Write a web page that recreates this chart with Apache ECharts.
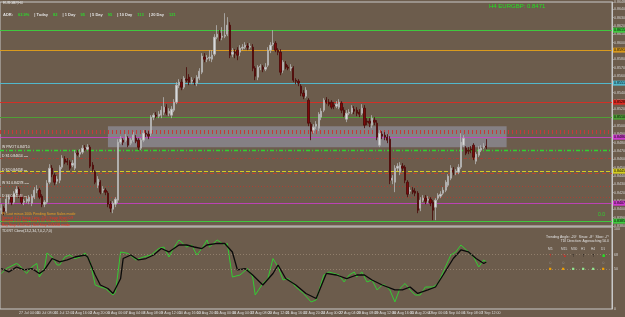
<!DOCTYPE html>
<html>
<head>
<meta charset="utf-8">
<script src="https://cdn.jsdelivr.net/npm/echarts@6/dist/echarts.min.js"></script>
<style>
html,body{margin:0;padding:0;background:#6c5c4c}
#chart{width:625px;height:317px}
</style>
</head>
<body>
<div id="chart"></div>
<script>
// EURGBP H4 candles, 26 Jul - 7 Sep 2018
var openP = [
0.83990,0.84014,0.83978,0.84122,0.84146,0.84086,0.84194,0.84242,0.84158,0.84086,
0.84098,0.84098,0.84074,0.84146,0.84230,0.84230,0.84158,0.84062,0.84086,0.84326,
0.84494,0.84410,0.84338,0.84350,0.84506,0.84602,0.84578,0.84566,0.84530,0.84494,
0.84674,0.84662,0.84686,0.84734,0.84722,0.84746,0.84530,0.84446,0.84290,0.84326,
0.84230,0.84230,0.84194,0.84062,0.84002,0.84062,0.84110,0.84806,0.84830,0.84830,
0.84854,0.84794,0.84830,0.84854,0.84830,0.84734,0.84830,0.84914,0.84902,0.84914,
0.85106,0.85130,0.85118,0.85130,0.85166,0.85226,0.85154,0.85130,0.85190,0.85286,
0.85490,0.85526,0.85466,0.85562,0.85586,0.85538,0.85550,0.85514,0.85574,0.85646,
0.85826,0.85802,0.85814,0.85802,0.85862,0.86066,0.86114,0.86066,0.86078,0.86102,
0.86210,0.85862,0.85886,0.85910,0.85886,0.85934,0.85946,0.85958,0.85946,0.85946,
0.85694,0.85586,0.85706,0.85706,0.85682,0.85730,0.85910,0.85982,0.85994,0.85910,
0.85886,0.85670,0.85742,0.85706,0.85694,0.85694,0.85550,0.85538,0.85478,0.85394,
0.85358,0.85310,0.85022,0.84950,0.84998,0.84974,0.85106,0.85190,0.85310,0.85286,
0.85286,0.85250,0.85238,0.85226,0.85274,0.85190,0.85082,0.85154,0.85166,0.85202,
0.85190,0.85166,0.85154,0.85214,0.85058,0.85058,0.85010,0.85070,0.85034,0.84770,
0.84902,0.84890,0.84866,0.84842,0.84350,0.84326,0.84494,0.84446,0.84518,0.84506,
0.84326,0.84218,0.84230,0.84218,0.84194,0.84014,0.84110,0.84134,0.84110,0.84122,
0.84086,0.84026,0.84134,0.84158,0.84194,0.84230,0.84290,0.84374,0.84470,0.84446,
0.84446,0.84506,0.84770,0.84734,0.84710,0.84722,0.84770,0.84578,0.84650,0.84710,
0.84746,0.84758
];
var closeP = [
0.84014,0.83978,0.84122,0.84146,0.84086,0.84194,0.84242,0.84158,0.84086,0.84098,
0.84122,0.84146,0.84158,0.84230,0.84242,0.84146,0.84062,0.84086,0.84314,0.84494,
0.84422,0.84326,0.84362,0.84506,0.84614,0.84566,0.84566,0.84494,0.84554,0.84674,
0.84662,0.84686,0.84734,0.84722,0.84746,0.84518,0.84482,0.84326,0.84362,0.84206,
0.84242,0.84206,0.84062,0.84014,0.84074,0.84122,0.84806,0.84842,0.84806,0.84866,
0.84770,0.84830,0.84890,0.84818,0.84746,0.84830,0.84914,0.84902,0.84878,0.85106,
0.85130,0.85118,0.85142,0.85190,0.85226,0.85154,0.85178,0.85202,0.85286,0.85490,
0.85526,0.85466,0.85574,0.85550,0.85526,0.85550,0.85526,0.85586,0.85658,0.85838,
0.85802,0.85814,0.85826,0.85850,0.86066,0.86102,0.86054,0.86078,0.86090,0.86210,
0.85850,0.85886,0.85874,0.85850,0.85934,0.85946,0.85970,0.85946,0.85958,0.85694,
0.85598,0.85706,0.85718,0.85682,0.85706,0.85910,0.85970,0.85994,0.85910,0.85886,
0.85646,0.85766,0.85706,0.85694,0.85706,0.85550,0.85538,0.85514,0.85394,0.85358,
0.85430,0.85034,0.84938,0.84986,0.85022,0.85142,0.85178,0.85310,0.85286,0.85262,
0.85226,0.85238,0.85262,0.85286,0.85190,0.85130,0.85154,0.85166,0.85214,0.85178,
0.85154,0.85142,0.85214,0.85010,0.85046,0.85034,0.85094,0.85046,0.84866,0.84914,
0.84878,0.84866,0.84830,0.84350,0.84374,0.84494,0.84518,0.84530,0.84494,0.84350,
0.84182,0.84230,0.84206,0.84194,0.83990,0.84110,0.84134,0.84098,0.84122,0.84074,
0.83990,0.84110,0.84170,0.84182,0.84230,0.84326,0.84398,0.84494,0.84446,0.84458,
0.84506,0.84806,0.84854,0.84674,0.84698,0.84710,0.84626,0.84662,0.84722,0.84734,
0.84758,0.84746
];
var lowP = [
0.83942,0.83930,0.83954,0.84062,0.84050,0.84062,0.84170,0.84134,0.84062,0.84050,
0.84074,0.84062,0.84038,0.84122,0.84194,0.84122,0.84026,0.84026,0.84062,0.84302,
0.84386,0.84290,0.84302,0.84314,0.84482,0.84542,0.84530,0.84470,0.84506,0.84470,
0.84638,0.84626,0.84662,0.84698,0.84710,0.84494,0.84446,0.84302,0.84254,0.84182,
0.84194,0.84170,0.84026,0.83966,0.83954,0.84026,0.84074,0.84782,0.84770,0.84806,
0.84746,0.84770,0.84806,0.84794,0.84710,0.84710,0.84806,0.84866,0.84842,0.84878,
0.85070,0.85094,0.85094,0.85094,0.85130,0.85130,0.85118,0.85094,0.85166,0.85262,
0.85454,0.85430,0.85442,0.85526,0.85490,0.85502,0.85490,0.85478,0.85550,0.85622,
0.85766,0.85766,0.85778,0.85766,0.85838,0.86042,0.86018,0.86030,0.86054,0.86078,
0.85814,0.85826,0.85814,0.85790,0.85838,0.85910,0.85922,0.85910,0.85922,0.85658,
0.85550,0.85550,0.85670,0.85646,0.85658,0.85706,0.85874,0.85958,0.85886,0.85850,
0.85610,0.85634,0.85682,0.85670,0.85658,0.85526,0.85502,0.85478,0.85358,0.85322,
0.85334,0.84998,0.84830,0.84914,0.84962,0.84938,0.85070,0.85166,0.85262,0.85238,
0.85202,0.85202,0.85214,0.85202,0.85154,0.85106,0.85046,0.85130,0.85142,0.85142,
0.85118,0.85106,0.85130,0.84974,0.85010,0.84986,0.84974,0.85010,0.84830,0.84746,
0.84842,0.84830,0.84794,0.84302,0.84302,0.84206,0.84458,0.84410,0.84458,0.84314,
0.84146,0.84182,0.84182,0.84158,0.83954,0.83978,0.84086,0.84062,0.84074,0.84038,
0.83870,0.83870,0.84110,0.84134,0.84170,0.84206,0.84266,0.84350,0.84410,0.84410,
0.84422,0.84482,0.84746,0.84650,0.84662,0.84674,0.84590,0.84542,0.84626,0.84686,
0.84722,0.84722
];
var highP = [
0.84062,0.84038,0.84158,0.84170,0.84170,0.84218,0.84278,0.84266,0.84182,0.84122,
0.84146,0.84170,0.84182,0.84266,0.84290,0.84254,0.84182,0.84110,0.84350,0.84542,
0.84530,0.84434,0.84398,0.84530,0.84650,0.84638,0.84614,0.84590,0.84590,0.84710,
0.84710,0.84722,0.84770,0.84770,0.84782,0.84770,0.84566,0.84470,0.84398,0.84350,
0.84278,0.84254,0.84218,0.84098,0.84098,0.84146,0.84842,0.84878,0.84854,0.84902,
0.84878,0.84854,0.84926,0.84890,0.84854,0.84854,0.84950,0.84950,0.84938,0.85130,
0.85154,0.85166,0.85178,0.85238,0.85346,0.85262,0.85214,0.85238,0.85322,0.85526,
0.85562,0.85562,0.85598,0.85706,0.85622,0.85586,0.85574,0.85610,0.85694,0.85874,
0.85874,0.85850,0.85910,0.85910,0.86102,0.86210,0.86150,0.86186,0.86354,0.86306,
0.86246,0.85934,0.85922,0.85946,0.85970,0.85982,0.86006,0.85994,0.85994,0.85982,
0.85718,0.85730,0.85742,0.85730,0.85754,0.85946,0.86006,0.86150,0.86018,0.85934,
0.85922,0.85790,0.85778,0.85730,0.85742,0.85718,0.85574,0.85562,0.85502,0.85430,
0.85466,0.85334,0.85046,0.85022,0.85058,0.85166,0.85214,0.85334,0.85346,0.85322,
0.85310,0.85286,0.85298,0.85322,0.85298,0.85226,0.85190,0.85202,0.85250,0.85238,
0.85226,0.85202,0.85262,0.85250,0.85094,0.85094,0.85130,0.85106,0.85070,0.84950,
0.84938,0.84926,0.84902,0.84878,0.84410,0.84530,0.84554,0.84566,0.84554,0.84530,
0.84350,0.84266,0.84266,0.84254,0.84218,0.84146,0.84170,0.84170,0.84158,0.84146,
0.84110,0.84134,0.84194,0.84218,0.84266,0.84350,0.84422,0.84530,0.84506,0.84482,
0.84542,0.84914,0.84890,0.84758,0.84746,0.84758,0.84794,0.84686,0.84758,0.84770,
0.84794,0.84842
];

// TDI sub window: [bar, value]
var tdiFast = [
[0,44.4],[2,50.6],[6,56.9],[7,55],[10,44.4],[12,52.5],[14,56.9],[15,40],[17,50.6],[18,70],
[20,65],[22,55],[23,55],[25,65],[27,67.5],[29,63],[31,65],[33,70],[35,58.8],[37,30],
[39,27.5],[41,25.6],[44,17.5],[45,21.3],[47,71.3],[50,69.4],[53,61.3],[56,65],[59,67.5],[62,75.6],
[64,77.5],[66,65],[69,81.9],[70,86.3],[73,77.5],[75,80],[77,67.5],[79,75.6],[81,86.3],[82,77.5],
[85,86.3],[88,80],[89,81.9],[91,40],[94,42.5],[97,50.6],[99,40],[100,17.5],[103,31.9],[105,38.1],
[107,63.1],[109,52.5],[111,36.3],[113,38.1],[116,27.5],[119,19.4],[122,8.8],[124,11.3],[127,42.5],[129,46.3],
[133,42.5],[135,33.8],[137,42.5],[139,46.3],[140,40],[142,46.3],[144,33.8],[146,36.3],[148,23.8],[150,30],
[151,30],[153,23.8],[155,8.8],[157,25.6],[159,31.9],[161,23.8],[163,17.5],[165,17.5],[167,27.5],[170,27.5],
[172,31.9],[174,46.3],[177,67.5],[179,71.3],[181,80],[184,71.3],[186,65],[188,52.5],[190,61.3],[191,58.8]
];
var tdiSignal = [
[0,50.6],[3,46.3],[6,52.5],[9,48.8],[12,50.6],[15,44.4],[17,48.8],[20,63.1],[23,58.8],[26,61.3],
[29,65],[33,67.5],[34,65],[37,42.5],[39,30],[42,25.6],[44,19.4],[47,38.1],[48,63.1],[51,67.5],
[54,61.3],[57,63.1],[60,67.5],[63,75.6],[66,71.3],[70,80],[73,80],[76,77.5],[79,75.6],[81,80],
[85,81.9],[88,81.9],[91,71.3],[93,48.8],[96,50.6],[99,42.5],[103,30],[107,44.4],[109,55],[112,38.1],
[116,30],[120,19.4],[124,13.1],[128,44.4],[132,42.5],[136,38.1],[140,42.5],[143,42.5],[146,36.3],[150,30],
[155,23.8],[158,23.8],[161,27.5],[164,19.4],[168,23.8],[171,27.5],[174,42.5],[178,63.1],[181,73.8],[184,71.3],
[187,63.1],[190,56.9],[191,58.8]
];
var tdiLevels = [68, 50];

// horizontal price levels drawn on the chart
var levelPrices = [0.86150, 0.85910, 0.85514, 0.85286, 0.85106, 0.84926, 0.84866, 0.84710,
                   0.84614, 0.84458, 0.84434, 0.84278, 0.84146, 0.84074, 0.83858];
var zoneTop = 0.84998, zoneBottom = 0.84746, zoneFrom = 42, zoneTo = 199;

var levelStyle = [
  {c:'#3fc83f', t:'solid', w:1, tag:true},
  {c:'#d99a1e', t:'solid', w:1, tag:true},
  {c:'#52b8cc', t:'solid', w:1, tag:true},
  {c:'#dd2b22', t:'solid', w:0.9, tag:true},
  {c:'#4f9e36', t:'solid', w:1.2, tag:true},
  {c:'#c43a3a', t:[1,3], w:4, tag:false},
  {c:'#cf3ccf', t:'solid', w:0.8, tag:true},
  {c:'#2fd42f', t:[4,2,1,2], w:1.3, tag:false},
  {c:'#b83a30', t:[3,2,1,2], w:0.8, tag:false},
  {c:'#d4cc22', t:[4,2], w:1, tag:true},
  {c:'#c8402c', t:[4,3], w:0.8, tag:false},
  {c:'#b83a30', t:[1,2], w:0.8, tag:false},
  {c:'#b83a30', t:[1,2], w:0.8, tag:false},
  {c:'#cf3ccf', t:'solid', w:0.8, tag:true},
  {c:'#3fc83f', t:'solid', w:1, tag:true}
];

// H4 bar times (weekdays only) + empty space on the right
var months = ['Jan','Feb','Mar','Apr','May','Jun','Jul','Aug','Sep','Oct','Nov','Dec'];
var categories = [];
var t = Date.UTC(2018, 6, 26, 0);
while (categories.length < openP.length) {
  var d = new Date(t);
  var wd = d.getUTCDay();
  if (wd >= 1 && wd <= 5) {
    var hh = d.getUTCHours();
    var tail = categories.length === 0 ? '2018' : (hh < 10 ? '0' : '') + hh + ':00';
    categories.push(d.getUTCDate() + ' ' + months[d.getUTCMonth()] + ' ' + tail);
  }
  t += 4 * 3600 * 1000;
}
for (var k = 0; k < 49; k++) categories.push('');

var candles = openP.map(function (o, i) { return [o, closeP[i], lowP[i], highP[i]]; });
var lastPrice = closeP[closeP.length - 1];

var FONT = 'Liberation Sans';

var levelLines = levelPrices.map(function (p, i) {
  var s = levelStyle[i];
  return {
    yAxis: p,
    lineStyle: {color: s.c, type: s.t, width: s.w},
    label: {
      show: s.tag, position: 'end', distance: 1,
      formatter: p.toFixed(5), fontSize: 3.6, fontFamily: FONT,
      color: '#000', backgroundColor: s.c, padding: [0.5, 1]
    }
  };
});
levelLines.push({
  yAxis: lastPrice,
  lineStyle: {opacity: 0},
  label: {show: true, position: 'end', distance: 1, formatter: lastPrice.toFixed(5),
    fontSize: 3.6, fontFamily: FONT, color: '#000', backgroundColor: '#e8e8e8', padding: [0.5, 1]}
});

function txt(text, left, top, color, size, extra) {
  var o = {
    text: text, left: left, top: top, padding: 0, itemGap: 0,
    textStyle: {color: color, fontSize: size, fontFamily: FONT, fontWeight: 'normal'}
  };
  if (extra) for (var key in extra) o[key] = extra[key];
  return o;
}

var texts = [
  txt('EURGBP,H4', 3, 1.5, '#e8e8e8', 3.5),
  {
    text: '{w|ADR:} {g|63.9%} {w|| Today} {g|82} {w|| 1 Day} {g|95} {w|| 5 Day} {g|95} {w|| 10 Day} {g|113} {w|| 20 Day} {g|121}',
    left: 3, top: 6, padding: 0,
    textStyle: {fontFamily: FONT, rich: {
      w: {color: '#e0e0e0', fontSize: 4, fontFamily: FONT},
      g: {color: '#2ed42e', fontSize: 4, fontFamily: FONT}
    }}
  },
  txt('H4 EURGBP: 0.8471', 489, 3, '#22e022', 6),
  txt('0.0', 598, 212, '#2ed42e', 5),
  // left side level labels
  txt('W PIVOT 0.84710', 2, 146, '#f0f0f0', 3.4),
  txt('D S1 0.84614 ----', 2, 155, '#f0f0f0', 3.4),
  txt('D S2 0.84458 ---', 2, 168.5, '#f0f0f0', 3.4),
  txt('W S1 0.84278 ----', 2, 182, '#f0f0f0', 3.4),
  txt('D S3 0.84146 ---', 2, 194.5, '#f0f0f0', 3.4),
  // bottom-left info
  txt('Pr Last minus 100k Pending Some Sales mode', 2, 212, '#f0a020', 3.5),
  txt('Spread 1.2 | Swap Long -5.8 | Swap Short 0.9', 2, 215.8, '#f03020', 3.5),
  txt('Bought 0.00 lots | Sold 0.00 lots | Net 0.00', 2, 219.4, '#f03020', 3.5),
  txt('Buy Stop 0.84782 | Sell Stop 0.84638 mode', 2, 223, '#f03020', 3.5),
  // TDI window
  txt('TDI RT Clone(13,2,34,7,0,2,7,0)', 2, 229.5, '#e8e8e8', 3.5),
  txt('Trending Angle: -20\u00b0  Sinus: -8\u00b0  Slow: -7\u00b0', 0, 235.5, '#e0e0e0', 3.4, {left: null, right: 16}),
  txt('TDI Direction: Approaching 50.0', 0, 239.5, '#e0e0e0', 3.4, {left: null, right: 16})
];

var panelCols = [551, 564, 574, 584, 594, 604];
var panelHead = ['M5', 'M15', 'M30', 'H1', 'H4', 'D1'];
var panelArrow = ['\u2191', '\u2198', '\u2191', '\u2191', '\u2191', '\u25a0'];
var arrowColor = ['#ff1a1a', '#ff1a1a', '#101010', '#101010', '#101010', '#22e022'];
var panelMid = ['\u25cb', '\u25cb', '-', '-', '-', '\u25cb'];
var panelSq = ['#f0a000', '#f0a000', '#90e890', '#90e890', '#90e890', '#f0a000'];
panelCols.forEach(function (x, i) {
  texts.push(txt(panelHead[i], x - 3, 248, '#d8d8d8', 3.2));
  texts.push(txt(panelArrow[i], x - 2, 253.5, arrowColor[i], 5));
  texts.push(txt(panelMid[i], x - 2, 260, '#a0a0a0', 4.5));
  texts.push(txt('\u25a0', x - 2, 266.5, panelSq[i], 4.5));
});

var chart = echarts.init(document.getElementById('chart'));
chart.setOption({
  animation: false,
  backgroundColor: '#6c5c4c',
  title: texts,
  grid: [
    {left: 0, right: 13, top: 2, height: 224, show: true, borderColor: '#c8c8c8', borderWidth: 1,
     backgroundColor: 'transparent', containLabel: false, outerBoundsMode: 'none'},
    {left: 0, right: 13, top: 227, height: 82, show: true, borderColor: '#c8c8c8', borderWidth: 1,
     backgroundColor: 'transparent', containLabel: false, outerBoundsMode: 'none'}
  ],
  xAxis: [
    {type: 'category', gridIndex: 0, data: categories, boundaryGap: true,
     axisLine: {show: false}, axisTick: {show: false}, axisLabel: {show: false}, splitLine: {show: false}},
    {type: 'category', gridIndex: 1, data: categories, boundaryGap: true,
     axisLine: {show: false}, axisTick: {show: false}, splitLine: {show: false},
     axisLabel: {interval: 6, fontSize: 3.6, fontFamily: FONT, color: '#dcdcdc', margin: 2, align: 'left'}}
  ],
  yAxis: [
    {type: 'value', gridIndex: 0, position: 'right', min: 0.838, max: 0.86488, interval: 0.001,
     axisLine: {show: true, lineStyle: {color: '#c8c8c8'}},
     axisTick: {show: true, length: 1.5, lineStyle: {color: '#c8c8c8'}},
     splitLine: {show: false},
     axisLabel: {fontSize: 3.6, fontFamily: FONT, color: '#d4d4d4', margin: 2,
       formatter: function (v) { return v.toFixed(5); }}},
    {type: 'value', gridIndex: 1, position: 'right', min: 0, max: 102.5, interval: 2,
     axisLine: {show: true, lineStyle: {color: '#c8c8c8'}},
     axisTick: {show: false}, splitLine: {show: false},
     axisLabel: {fontSize: 3.6, fontFamily: FONT, color: '#d4d4d4', margin: 2,
       formatter: function (v) { return [100, 68, 50, 0].indexOf(v) >= 0 ? String(v) : ''; }}}
  ],
  series: [
    {
      type: 'line', xAxisIndex: 0, yAxisIndex: 0, data: [], z: 1, silent: true,
      markArea: {silent: true, itemStyle: {color: 'rgba(148,150,166,0.62)'},
        data: [[{xAxis: zoneFrom, yAxis: zoneTop}, {xAxis: zoneTo, yAxis: zoneBottom}]]}
    },
    {
      type: 'line', xAxisIndex: 0, yAxisIndex: 0, data: [], z: 2, silent: true,
      markLine: {silent: true, precision: 5, symbol: ['none', 'none'], animation: false, data: levelLines}
    },
    {
      type: 'candlestick', xAxisIndex: 0, yAxisIndex: 0, data: candles, z: 5,
      barWidth: 1.8,
      itemStyle: {color: '#dadada', color0: '#7c0a0a', borderColor: '#b4b4b4', borderColor0: '#4a0808', borderWidth: 0.8}
    },
    {
      type: 'line', xAxisIndex: 1, yAxisIndex: 1, data: tdiFast, showSymbol: false, z: 3,
      lineStyle: {color: '#33cc33', width: 1},
      markLine: {silent: true, symbol: ['none', 'none'], label: {show: false},
        lineStyle: {color: '#a08c78', type: [1, 2], width: 0.7},
        data: tdiLevels.map(function (v) { return {yAxis: v}; })}
    },
    {
      type: 'line', xAxisIndex: 1, yAxisIndex: 1, data: tdiSignal, showSymbol: false, z: 4,
      lineStyle: {color: '#0a0a0a', width: 1.3}
    }
  ]
});
</script>
</body>
</html>
